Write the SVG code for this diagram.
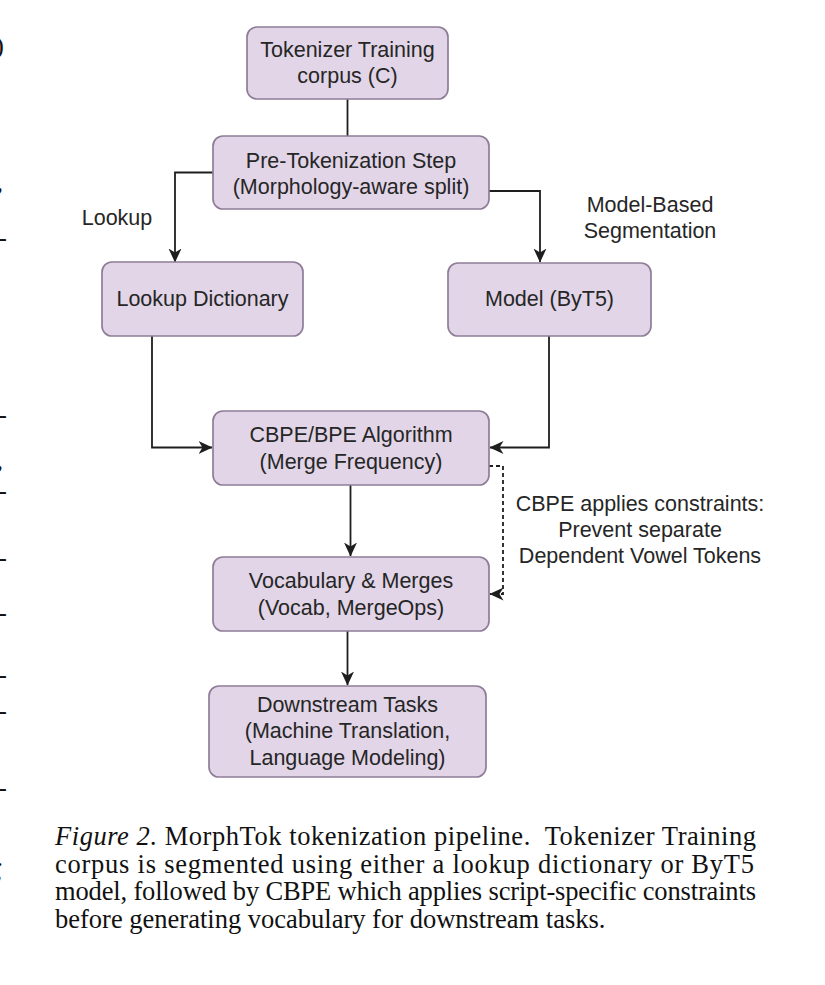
<svg xmlns="http://www.w3.org/2000/svg" width="825" height="985" viewBox="0 0 825 985">
<style>
.node rect{fill:#e1d5e7;stroke:#8f7d98;stroke-width:1.7}
.nt{font-family:"Liberation Sans",Arial,sans-serif;font-size:21.5px;fill:#262626;text-anchor:middle}
.lbl{font-family:"Liberation Sans",Arial,sans-serif;font-size:21.5px;fill:#262626;text-anchor:middle}
.edge{fill:none;stroke:#1e1e1e;stroke-width:1.8}
.dash{stroke-dasharray:4 3}
.cap{font-family:"Liberation Serif","Times New Roman",serif;font-size:26.5px;fill:#111}
.frag{font-family:"Liberation Serif","Times New Roman",serif;font-size:26px;fill:#111;text-anchor:end}
</style>
<defs>
<marker id="arr" markerUnits="userSpaceOnUse" viewBox="0 0 14 14" markerWidth="14" markerHeight="14" refX="13.5" refY="7" orient="auto">
<path d="M0,0.5 L14,7 L0,13.5 L4,7 z" fill="#1e1e1e"/>
</marker>
</defs>
<rect width="825" height="985" fill="#ffffff"/>

<g id="margin-fragments">
<text class="frag" x="4" y="54">)</text>
<text class="frag" x="3" y="191">,</text>
<text class="frag" x="7" y="246">-</text>
<text class="frag" x="7" y="423">-</text>
<text class="frag" x="3" y="469">,</text>
<text class="frag" x="7" y="499">-</text>
<text class="frag" x="7" y="566">-</text>
<text class="frag" x="7" y="621">-</text>
<text class="frag" x="7" y="683">-</text>
<text class="frag" x="7" y="719">-</text>
<text class="frag" x="7" y="796">-</text>
<text class="frag" x="3" y="866">.</text>
<text class="frag" x="3" y="893">’</text>
</g>

<g id="connectors">
<path class="edge" d="M347.5,99 V136"/>
<path class="edge" d="M213,172.5 H175 V262" marker-end="url(#arr)"/>
<path class="edge" d="M489,191 H540 V262" marker-end="url(#arr)"/>
<path class="edge" d="M152,336 V447.5 H212" marker-end="url(#arr)"/>
<path class="edge" d="M549,336 V447.5 H490" marker-end="url(#arr)"/>
<path class="edge" d="M350.5,485 V556" marker-end="url(#arr)"/>
<path class="edge" d="M347.5,631 V685" marker-end="url(#arr)"/>
<path class="edge dash" d="M489,466 H503 V594 H490" marker-end="url(#arr)"/>
<text class="lbl" x="117" y="225">Lookup</text>
<text class="lbl" x="650" y="212">Model-Based</text>
<text class="lbl" x="650" y="238">Segmentation</text>
<text class="lbl" x="640" y="511">CBPE applies constraints:</text>
<text class="lbl" x="640" y="537">Prevent separate</text>
<text class="lbl" x="640" y="563">Dependent Vowel Tokens</text>
</g>

<g id="corpus" class="node">
<rect x="247" y="27" width="201" height="72" rx="10"/>
<text class="nt" x="347.5" y="57">Tokenizer Training</text>
<text class="nt" x="347.5" y="83">corpus (C)</text>
</g>
<g id="pretok" class="node">
<rect x="213" y="136" width="276" height="73" rx="10"/>
<text class="nt" x="351" y="167.5">Pre-Tokenization Step</text>
<text class="nt" x="351" y="194">(Morphology-aware split)</text>
</g>
<g id="lookup" class="node">
<rect x="102" y="262" width="201" height="74" rx="10"/>
<text class="nt" x="202.5" y="306">Lookup Dictionary</text>
</g>
<g id="model" class="node">
<rect x="448" y="263" width="203" height="73" rx="10"/>
<text class="nt" x="549.5" y="306">Model (ByT5)</text>
</g>
<g id="cbpe" class="node">
<rect x="213" y="411" width="276" height="74" rx="10"/>
<text class="nt" x="351" y="441.5">CBPE/BPE Algorithm</text>
<text class="nt" x="351" y="468.5">(Merge Frequency)</text>
</g>
<g id="vocab" class="node">
<rect x="213" y="557" width="276" height="74" rx="10"/>
<text class="nt" x="351" y="587.5">Vocabulary &amp; Merges</text>
<text class="nt" x="351" y="614.5">(Vocab, MergeOps)</text>
</g>
<g id="downstream" class="node">
<rect x="209" y="686" width="277" height="91" rx="10"/>
<text class="nt" x="347.5" y="711.5">Downstream Tasks</text>
<text class="nt" x="347.5" y="738">(Machine Translation,</text>
<text class="nt" x="347.5" y="764.5">Language Modeling)</text>
</g>

<g id="caption">
<text class="cap" x="55" y="845" textLength="701" xml:space="preserve"><tspan font-style="italic">Figure 2.</tspan> MorphTok tokenization pipeline.  Tokenizer Training</text>
<text class="cap" x="55" y="872.5" textLength="699">corpus is segmented using either a lookup dictionary or ByT5</text>
<text class="cap" x="55" y="900" textLength="701">model, followed by CBPE which applies script-specific constraints</text>
<text class="cap" x="55" y="927.5">before generating vocabulary for downstream tasks.</text>
</g>
</svg>
